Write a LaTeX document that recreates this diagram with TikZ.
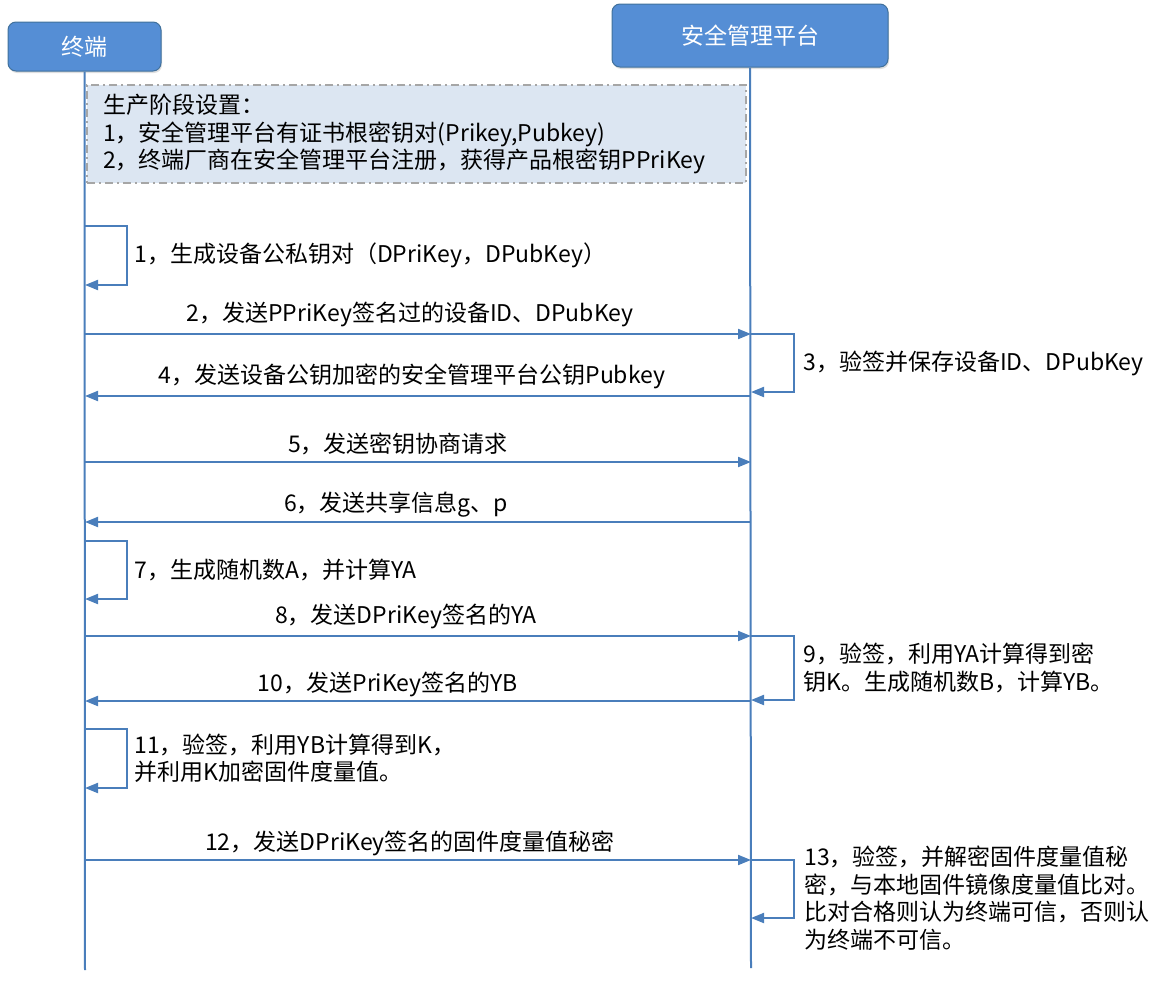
\documentclass[tikz,border=0pt]{standalone}
\usepackage{fontspec}
\setmainfont{Noto Sans CJK SC}
\usetikzlibrary{positioning}
\usetikzlibrary{arrows.meta}
\usetikzlibrary{shadows}
\definecolor{lineblue}{HTML}{4A7EBB}
\definecolor{headblue}{HTML}{558ED5}
\definecolor{headedge}{HTML}{41719C}
\definecolor{notefill}{HTML}{DCE6F2}
\definecolor{noteedge}{HTML}{A6A6A6}

\begin{document}
\begin{tikzpicture}[
	x=1pt, y=-1pt,
	font=\fontsize{23}{27.5}\selectfont,
	head/.style={draw=headedge, line width=1pt, fill=headblue, rounded corners=8pt,
		text=white, drop shadow={shadow xshift=1pt, shadow yshift=-2pt, opacity=0.25}},
	life/.style={draw=lineblue, line width=2pt},
	msg/.style={draw=lineblue, line width=2pt, -{Triangle[length=13pt, width=10pt]}},
	note/.style={draw=noteedge, dash pattern=on 8pt off 4pt on 2pt off 4pt, line width=2pt,
		fill=notefill, anchor=north west, minimum width=659pt, minimum height=98pt,
		text width=627pt, inner xsep=16pt, align=left},
	self/.style={pos=0.25, right=3pt, align=left}
	]
	\useasboundingbox (0,0) rectangle (1168,983);
	
	% Participants
	\node[head, minimum width=153pt, minimum height=49pt] (term) at (84.5,46.5) {终端};
	\node[head, minimum width=276pt, minimum height=63pt] (plat) at (750,35.5) {安全管理平台};
	
	% Lifelines
	\coordinate (termEnd) at (85,970);
	\coordinate (platEnd) at (751,968);
	\draw[life] (term.south) -- (termEnd);
	\draw[life] (plat.south) -- (platEnd);
	
	% Setup note
	\node[note] (setup) at (86,84) {生产阶段设置：\\1，安全管理平台有证书根密钥对(Prikey,Pubkey)\\2，终端厂商在安全管理平台注册，获得产品根密钥PPriKey};
	
	% Points on the lifelines
	\foreach \n/\y in {a/226, b/285, c/334, d/392, e/396, f/462, g/522, h/541, i/599,
		j/636, k/700, l/701, m/729, n/788, o/860, p/918} {
		\coordinate (T\n) at (85,\y);
		\coordinate (P\n) at (751,\y);
	}
	
	% Messages
	\draw[msg] (Ta) -- ++(42,0) |- node[self] {1，生成设备公私钥对（DPriKey，DPubKey）} (Tb);
	\draw[msg] (Tc) -- node[above=3pt, xshift=-8pt] {2，发送PPriKey签名过的设备ID、DPubKey} (Pc);
	\draw[msg] (Pc) -- ++(43,0) |- node[self, right=5pt] {3，验签并保存设备ID、DPubKey} (Pd);
	\draw[msg] (Pe) -- node[above=3pt, xshift=-6pt] {4，发送设备公钥加密的安全管理平台公钥Pubkey} (Te);
	\draw[msg] (Tf) -- node[above=3pt, xshift=-20pt] {5，发送密钥协商请求} (Pf);
	\draw[msg] (Pg) -- node[above, xshift=-22pt] {6，发送共享信息g、p} (Tg);
	\draw[msg] (Th) -- ++(42,0) |- node[self] {7，生成随机数A，并计算YA} (Ti);
	\draw[msg] (Tj) -- node[above=3pt, xshift=-12pt] {8，发送DPriKey签名的YA} (Pj);
	\draw[msg] (Pj) -- ++(43,0) |- node[self, right=5pt] {9，验签，利用YA计算得到密\\钥K。生成随机数B，计算YB。} (Pk);
	\draw[msg] (Pl) -- node[above, xshift=-30pt] {10，发送PriKey签名的YB} (Tl);
	\draw[msg] (Tm) -- ++(42,0) |- node[self] {11，验签，利用YB计算得到K，\\并利用K加密固件度量值。} (Tn);
	\draw[msg] (To) -- node[above, xshift=-8pt] {12，发送DPriKey签名的固件度量值秘密} (Po);
	\draw[msg] (Po) -- ++(43,0) |- node[self, right=6pt, yshift=-9pt] {13，验签，并解密固件度量值秘\\密，与本地固件镜像度量值比对。\\比对合格则认为终端可信，否则认\\为终端不可信。} (Pp);
\end{tikzpicture}
\end{document}
